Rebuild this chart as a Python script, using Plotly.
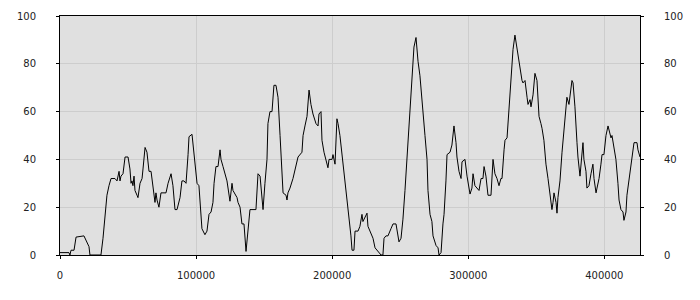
import plotly.graph_objects as go

x_vals = [0, 700, 6600, 7300, 8100, 10300, 11800, 17600, 18400, 19800, 21300, 22000,
    30100, 31600, 32300, 33800, 34500, 36000, 37500, 40400, 41900, 43400, 44100, 44800,
    46300, 47800, 50000, 51400, 52200, 52900, 53600, 54400, 55100, 56600, 57300, 58800,
    60300, 61000, 62500, 63900, 65400, 66900, 68300, 69800, 70500, 71300, 72700, 74200,
    77900, 79400, 81600, 83000, 84500, 86000, 88200, 89600, 91100, 92600, 94100, 94800,
    97000, 97700, 99200, 100700, 102100, 103600, 104300, 106500, 108000, 109500, 111000,
    112400, 113200, 114600, 116100, 117600, 118300, 119800, 121200, 122700, 124900,
    126400, 127100, 130100, 130800, 132300, 133700, 135200, 136700, 138100, 139600,
    144000, 145500, 147000, 148400, 149200, 150600, 152100, 152800, 154300, 155800,
    157200, 158700, 160200, 161700, 163100, 163900, 166100, 166800, 167500, 169000,
    171200, 173400, 174900, 177800, 178600, 180000, 181500, 183000, 184400, 185900,
    188100, 189600, 190300, 191800, 192500, 194000, 195500, 196900, 197700, 199900,
    200600, 202100, 203500, 204300, 205700, 207900, 209400, 210900, 212400, 213800,
    214600, 216000, 216800, 219000, 220400, 221900, 222600, 224100, 225600, 226300,
    227800, 230000, 231500, 233700, 235900, 237300, 238100, 239500, 241000, 243200,
    244700, 246900, 248400, 249100, 250600, 252000, 253500, 255000, 256400, 257900,
    258600, 260100, 261600, 262300, 263100, 264500, 266000, 266700, 268200, 269700,
    270400, 271900, 273300, 274100, 276300, 277800, 278500, 280000, 280700, 281400,
    282200, 282900, 283600, 284400, 286600, 288000, 289500, 291000, 291700, 293200,
    294700, 295400, 297600, 299100, 300500, 301300, 302700, 303500, 304900, 306400,
    307900, 309400, 310800, 311600, 313000, 314500, 316700, 318200, 319600, 321100,
    322600, 324000, 324800, 326300, 327000, 328500, 329200, 330700, 332100, 332900,
    334300, 335800, 336500, 338000, 339500, 340200, 341700, 343200, 343900, 345400,
    346100, 347600, 348300, 349000, 350500, 351200, 352000, 353400, 354200, 355600,
    357100, 358600, 360100, 361500, 362300, 363000, 364500, 365200, 365900, 367400,
    368900, 369600, 371100, 372500, 374000, 374700, 376200, 377000, 378400, 379900,
    380600, 382100, 383600, 384300, 385000, 386500, 387200, 388700, 390200, 391600,
    392400, 393900, 394600, 396100, 397500, 398300, 399700, 401200, 402700, 403400,
    404900, 405600, 407100, 408500, 410000, 410800, 412200, 413700, 414400, 415900,
    416600, 418100, 419600, 421000, 421800, 424000, 424700, 426200]

y_vals = [1, 1, 1, 0, 2, 2, 7.5, 8, 7, 6, 3.5, 0,
    0, 7, 12, 20, 25, 29, 32, 32, 31, 35, 31, 33,
    34, 41, 41, 36, 30, 31, 29, 33, 27, 25, 24, 30,
    32, 36, 45, 43, 35, 35, 28, 22, 26, 23, 20, 26,
    26, 30, 34, 29, 19, 19, 24, 31, 31, 30, 42, 49.5,
    50.5, 47, 37, 30, 29, 15, 11, 8.5, 10, 17, 18,
    22, 30, 37, 37, 44, 40, 37, 34, 31, 22.5,
    30, 27, 24, 22, 20, 13, 13, 1.5, 10, 19,
    19, 34, 33, 22, 19, 30, 40, 55, 60, 60,
    71, 71, 66, 50, 35, 26, 25, 23, 26, 28,
    32, 37, 41, 43, 50, 54, 58, 69, 63, 59,
    55, 54, 59, 60, 48, 43, 40, 36.5, 40, 40,
    42, 38, 57, 55, 50, 39, 30, 22, 16, 8,
    2, 2, 10, 10, 12, 17, 14, 16, 17.5, 12,
    10, 7, 3, 1.5, 0, 0, 7, 8, 8, 11,
    13, 13, 7, 5.5, 7, 15, 27, 40, 53, 65,
    75, 87, 91, 86, 81, 75, 66, 60, 50, 40,
    27, 17, 14, 8, 4, 3, 0, 1, 8, 13,
    17, 28, 31, 42, 43, 46, 54, 47, 41, 35,
    32, 39, 40, 33, 28, 25.5, 28, 34, 29, 28,
    27, 32, 32, 37, 33, 25, 25, 40, 34, 32,
    29, 32, 32, 44, 48, 49, 55, 65, 80, 86,
    92, 86, 84, 77, 73, 72, 73, 66, 63, 65,
    62, 67, 74, 76, 73, 63, 58, 55, 53, 48,
    38, 32, 26, 19, 22, 26, 22, 17.5, 24, 31,
    43, 48, 57, 66, 63, 67, 73, 72, 62, 47,
    41, 33, 43, 47, 40, 35, 28, 29, 34, 38,
    32, 26, 28, 32, 38, 42, 42, 50, 54, 52,
    49, 50, 45, 40, 30, 23, 19, 18, 14.5, 18,
    25, 31, 36, 42, 47, 47, 44, 41]

x_ticks = [0, 100000, 200000, 300000, 400000]
x_tick_labels = ["0", "100000", "200000", "300000", "400000"]
y_ticks = [0, 20, 40, 60, 80, 100]
y_tick_labels = ["0", "20", "40", "60", "80", "100"]

fig = go.Figure()
fig.add_trace(go.Scatter(x=x_vals, y=y_vals, mode="lines",
                         line=dict(color="black", width=1), showlegend=False,
                         hoverinfo="skip"))
fig.add_trace(go.Scatter(x=[x_vals[0]], y=[y_vals[0]], mode="lines", yaxis="y2",
                         line=dict(color="rgba(0,0,0,0)", width=0), showlegend=False,
                         hoverinfo="skip"))

font = dict(family="DejaVu Sans", size=10, color="#222222")
x_max = x_vals[-1]

fig.update_layout(
    width=700, height=300,
    margin=dict(l=60, r=60, t=10, b=45),
    paper_bgcolor="white",
    plot_bgcolor="#e0e0e0",
    font=font,
    xaxis=dict(range=[0, x_max], tickvals=x_ticks, ticktext=x_tick_labels,
               showgrid=True, gridcolor="#cdcdcd", gridwidth=1,
               showline=True, linecolor="black", linewidth=1, mirror=True,
               ticks="outside", ticklen=3, tickcolor="black",
               ticklabelstandoff=8, zeroline=False, tickfont=font),
    yaxis=dict(range=[0, 100], tickvals=y_ticks, ticktext=y_tick_labels,
               showgrid=True, gridcolor="#cdcdcd", gridwidth=1,
               showline=True, linecolor="black", linewidth=1, mirror=True,
               ticks="outside", ticklen=3, tickcolor="black",
               ticklabelstandoff=18, zeroline=False, tickfont=font),
    yaxis2=dict(range=[0, 100], tickvals=y_ticks, ticktext=y_tick_labels,
                overlaying="y", side="right", showgrid=False,
                showline=True, linecolor="black", linewidth=1,
                ticks="outside", ticklen=3, tickcolor="black",
                ticklabelstandoff=18, zeroline=False, tickfont=font),
)

fig.write_html("out.html")
